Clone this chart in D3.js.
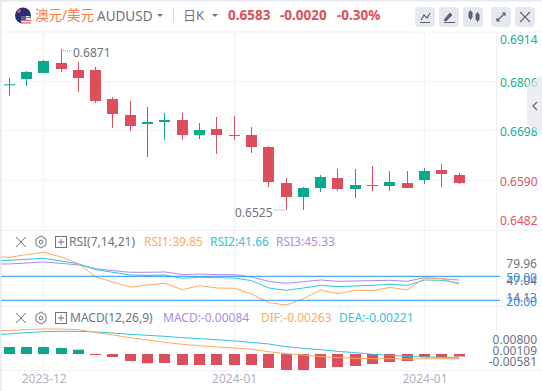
<!DOCTYPE html>
<html><head><meta charset="utf-8">
<script src="https://cdn.jsdelivr.net/npm/d3@7/dist/d3.min.js"></script>
<style>html,body{margin:0;padding:0;background:#fff;overflow:hidden}svg{display:block}text{font-family:"Noto Sans","Noto Sans CJK SC",sans-serif}</style>
</head><body><svg id="c" width="542" height="391"></svg>
<script>
const open_=[.67973,.68104,.68235,.68453,.683,.683,.67667,.67318,.67122,.67165,.67209,.66882,.67013,.66882,.66882,.6662,.65834,.65529,.65725,.65943,.65703,.6579,.65769,.65834,.659,.66118,.66009];
const high_=[.68125,.68278,.68518,.68752,.68475,.68365,.67711,.67624,.67493,.67362,.67362,.67144,.67274,.67296,.67056,.66642,.65943,.65747,.66009,.6614,.6614,.66205,.66096,.66096,.66162,.66249,.66053];
const low_=[.67733,.67951,.68235,.68256,.6782,.6758,.67034,.66969,.66402,.66773,.66773,.66794,.66467,.66773,.66489,.65747,.65245,.65245,.65638,.6566,.65507,.6566,.6566,.65725,.65812,.65747,.65812];
const close_=[.67988,.68256,.68496,.68322,.68125,.67624,.6734,.67078,.67165,.67209,.66882,.66991,.66882,.66871,.6662,.65856,.65529,.65725,.65965,.65703,.6579,.65779,.65856,.65725,.66096,.66031,.65834];
// indicator series start one session before the first visible candle
const rsi1=[74.6,73.7,77.1,79.96,74.2,65.8,49.1,42.9,36.6,39.1,41.2,33.3,38.3,35.4,35.0,27.9,17.1,14.13,22.1,32.9,28.3,32.5,32.1,36.2,32.9,47.9,47.1,39.85];
const rsi2=[69.6,70.0,71.2,72.5,69.1,65.8,58.3,55.0,51.6,51.2,51.6,47.5,48.7,48.3,47.9,44.6,35.4,32.5,35.4,38.7,37.1,37.9,38.7,40.0,38.7,45.4,45.0,41.66];
const rsi3=[65.4,65.4,66.6,67.9,66.2,64.2,59.6,57.1,55.0,55.0,55.4,52.1,52.9,52.1,52.1,49.1,43.7,41.2,43.3,45.4,43.7,44.1,44.6,45.0,43.7,48.3,47.1,45.33];
const dif=[.00767,.00789,.00811,.00833,.00833,.00811,.00722,.00633,.00544,.00467,.00389,.00322,.00278,.00233,.002,.00156,.00078,.00011,-.00033,-.00089,-.00122,-.00144,-.00156,-.00156,-.00167,-.00156,-.00156,-.00156];
const dea=[.00644,.00667,.00711,.00744,.00756,.00756,.00733,.007,.00656,.00622,.00589,.00544,.00511,.00478,.00433,.00389,.00333,.00244,.00189,.00144,.00089,.00044,-.00011,-.00044,-.00078,-.001,-.00111,-.00111];
const hist=[.00233,.00233,.00233,.002,.00144,-.00033,-.001,-.00233,-.0031,-.003,-.00367,-.00367,-.00367,-.00367,-.00367,-.00467,-.00533,-.00533,-.00467,-.00433,-.004,-.00333,-.00267,-.00233,-.001,-.001,-.00084];
const priceTicks=[0.6914,0.6806,0.6698,0.6590,0.6482];
const rsiTicks=[79.96,47.04,14.13];
const rsiLevels=[50,20];
const macdTicks=["0.00800","0.00109","-0.00581"];
const dateTicks=[[2,"2023-12"],[13,"2024-01"],[24,"2024-01"]];

const GREEN="#0AA88C",RED="#DC4E5B",GRID="#f3f4f8",ORANGE="#FFA95E",CYAN="#2FC4DC",PURPLE="#A98CE8",BLUE="#2196F3",GRAY="#6f7280";
const svg=d3.select("#c");
const x=d3.scaleLinear().domain([0,26]).range([9.1,459.16]);
const sx=i=>Math.floor(x(i))+.5;
const y=d3.scaleLinear().domain([0.6806,0.6590]).range([81,180]);
const yR=d3.scaleLinear().domain([50,20]).range([276.3,300.3]);
const yRL=d3.scaleLinear().domain([79.96,14.13]).range([264,298]);
const yM=d3.scaleLinear().domain([0,0.008]).range([354,330]);
const yML=d3.scalePoint().domain(macdTicks).range([340,362]);

svg.append("defs").append("clipPath").attr("id","plot").append("rect").attr("x",1).attr("y",32).attr("width",495).attr("height",339);
// frame
svg.append("rect").attr("width",542).attr("height",391).attr("fill","#fff");
svg.append("rect").attr("width",542).attr("height",1.5).attr("fill","#e6e9f2");
svg.append("rect").attr("width",1.5).attr("height",391).attr("fill","#e6e9f2");
const hl=(yy,c)=>svg.append("line").attr("x1",1).attr("x2",542).attr("y1",yy).attr("y2",yy).attr("stroke",c||GRID);
[32,230.5,306,370.5].forEach(v=>hl(v,"#f0f1f5"));
svg.append("g").selectAll("line").data(priceTicks.slice(1,4)).join("line")
 .attr("x1",1).attr("x2",496).attr("y1",d=>Math.floor(y(d))+.5).attr("y2",d=>Math.floor(y(d))+.5).attr("stroke",GRID);
svg.append("g").selectAll("line").data(dateTicks).join("line")
 .attr("x1",d=>sx(d[0])).attr("x2",d=>sx(d[0])).attr("y1",32).attr("y2",371).attr("stroke",GRID).attr("stroke-width",1.5);
svg.append("line").attr("x1",496.5).attr("x2",496.5).attr("y1",32).attr("y2",371).attr("stroke","#f0f1f5");

// candles
const idx=d3.range(open_.length);
const col=i=>close_[i]>=open_[i]?GREEN:RED;
const cg=svg.append("g");
cg.selectAll("line").data(idx).join("line").attr("x1",sx).attr("x2",sx)
 .attr("y1",i=>y(high_[i])).attr("y2",i=>y(low_[i])).attr("stroke",col);
cg.selectAll("rect").data(idx).join("rect").attr("x",i=>sx(i)-5.5).attr("width",11)
 .attr("y",i=>y(Math.max(open_[i],close_[i])))
 .attr("height",i=>Math.max(1,Math.abs(y(open_[i])-y(close_[i])))).attr("fill",col);

// high / low annotations
const hiI=d3.maxIndex(high_),loI=d3.minIndex(low_);
svg.append("line").attr("x1",sx(hiI)+1.5).attr("x2",sx(hiI)+10).attr("y1",y(high_[hiI])+1.5).attr("y2",y(high_[hiI])+1.5).attr("stroke","#8b8e9b").attr("stroke-dasharray","1 1");
svg.append("text").attr("x",73).attr("y",57).attr("font-size",12).attr("fill",GRAY).text("0.6871");
svg.append("line").attr("x1",sx(loI)-13).attr("x2",sx(loI)-1).attr("y1",y(low_[loI])).attr("y2",y(low_[loI])).attr("stroke","#8b8e9b").attr("stroke-dasharray","1 1");
svg.append("text").attr("x",235).attr("y",217).attr("font-size",12).attr("fill",GRAY).text("0.6525");

// price labels
svg.append("g").selectAll("text").data(priceTicks).join("text")
 .attr("x",500).attr("y",d=>Math.max(39.5,Math.min(221,y(d)+1.5))).attr("dy","0.35em").attr("font-size",12)
 .attr("fill",d=>d>=0.6698?"#16AE8E":"#E0525F").text(d=>d.toFixed(4));

// RSI
const plot=svg.append("g").attr("clip-path","url(#plot)");
const lineFrom=(s)=>d3.line().x((d,i)=>x(i-1)).y(d=>s(d));
[[rsi3,PURPLE],[rsi2,CYAN],[rsi1,ORANGE]].forEach(([a,c])=>plot.append("path").datum(a).attr("fill","none").attr("stroke",c).attr("d",lineFrom(yR)));
svg.append("g").selectAll("line").data(rsiLevels).join("line").attr("x1",1).attr("x2",500)
 .attr("y1",d=>yR(d)).attr("y2",d=>yR(d)).attr("stroke",BLUE);
svg.append("g").selectAll("text").data(rsiTicks).join("text").attr("x",537).attr("text-anchor","end")
 .attr("y",d=>yRL(d)).attr("dy","0.35em").attr("font-size",12).attr("fill",GRAY).text(d=>d.toFixed(2));
svg.append("g").selectAll("text").data(rsiLevels).join("text").attr("x",537).attr("text-anchor","end")
 .attr("y",d=>yR(d)+1).attr("dy","0.35em").attr("font-size",12).attr("fill",BLUE).text(d=>d.toFixed(2));

// MACD
plot.append("g").selectAll("rect").data(hist).join("rect")
 .attr("x",(d,i)=>sx(i)-5.5).attr("width",11)
 .attr("y",d=>Math.min(yM(d),yM(0))).attr("height",d=>Math.max(1,Math.abs(yM(d)-yM(0))))
 .attr("fill",d=>d>=0?GREEN:RED);
[[dea,CYAN],[dif,ORANGE]].forEach(([a,c])=>plot.append("path").datum(a).attr("fill","none").attr("stroke",c).attr("d",lineFrom(yM)));
svg.append("g").selectAll("text").data(macdTicks).join("text").attr("x",537).attr("text-anchor","end")
 .attr("y",d=>yML(d)).attr("dy","0.35em").attr("font-size",12).attr("fill",GRAY).text(d=>d);

// date axis
const ax=d3.axisBottom(x).tickValues(dateTicks.map(d=>d[0])).tickSize(0).tickFormat(v=>dateTicks.find(d=>d[0]===v)[1]);
const axG=svg.append("g").attr("transform","translate(0,370)").call(ax);
axG.select(".domain").remove();
axG.selectAll("text").attr("font-size",12).attr("fill","#b0b2c0").attr("font-family",'"Noto Sans"').attr("dy","0.8em");

// header
const T=(xx,yy,s,c,fs,w)=>svg.append("text").attr("x",xx).attr("y",yy).attr("font-size",fs).attr("fill",c).attr("font-weight",w||400).text(s);
// flag
svg.append("circle").attr("cx",23).attr("cy",15.5).attr("r",8).attr("fill","#26307a");
svg.append("rect").attr("x",21).attr("y",16).attr("width",10).attr("height",8).attr("rx",3).attr("fill","#f0e4e6");
[17.5,20.5,23].forEach(v=>svg.append("line").attr("x1",21).attr("x2",31).attr("y1",v).attr("y2",v).attr("stroke","#d9606d"));
svg.append("rect").attr("x",21).attr("y",16).attr("width",5).attr("height",4).attr("fill","#5a6090");
svg.append("circle").attr("cx",19).attr("cy",11).attr("r",2).attr("fill","#d9505d");
T(35,20,"澳元/美元","#FF7A45",13.5);
T(97,21,"AUDUSD","#6f7280",13.5);
svg.append("path").attr("d","M157 14h6l-3 3z").attr("fill","#6f7280");
svg.append("rect").attr("x",173).attr("y",9).attr("width",1).attr("height",13).attr("fill","#d5d7e0");
T(183,20,"日K","#6f7280",13);
svg.append("path").attr("d","M212 14h6l-3 3z").attr("fill","#6f7280");
T(228,19.5,"0.6583",RED,13.5,700);
T(280,19.5,"-0.0020",RED,13.5,700);
T(337,19.5,"-0.30%",RED,13.5,700);
// toolbar buttons
const btnX=[415,439,463,491,515];
svg.append("g").selectAll("rect").data(btnX).join("rect").attr("x",d=>d).attr("y",7).attr("width",20).attr("height",20).attr("rx",4).attr("fill","#e6e8f0");
const ic="#5f6270";
svg.append("path").attr("d","M421 20l3-5 3 3 3-5 M420 22.5h10").attr("fill","none").attr("stroke",ic).attr("stroke-width",1.2);
svg.append("path").attr("d","M444 20l6-7 2 2-6 6z M444 22.5h11").attr("fill",ic).attr("stroke",ic);
svg.append("path").attr("d","M469 12h3v6h-3z M476 14h3v6h-3z M470.5 10v10 M477.5 12v10").attr("fill",ic).attr("stroke",ic);
svg.append("path").attr("d","M497 21l8-8 M502 13h3v3 M497 18v3h3").attr("fill","none").attr("stroke",ic).attr("stroke-width",1.2);
svg.append("path").attr("d","M520 12l10 10 M530 12l-10 10").attr("stroke",ic).attr("stroke-width",1.1);
// side handle
svg.append("path").attr("d","M542 75 L527 85 V125 L542 135z").attr("fill","#e6e6ec").attr("fill-opacity",.7);
svg.append("path").attr("d","M537 102l-4 4 4 4").attr("fill","none").attr("stroke",ic).attr("stroke-width",1.2);

// pane legends
function tools(cy){
 svg.append("path").attr("d",`M16 ${cy-5}l10 10 M26 ${cy-5}l-10 10`).attr("stroke",GRAY).attr("fill","none");
 svg.append("path").attr("d",`M41 ${cy-6}l5 3v6l-5 3-5-3v-6z`).attr("stroke",GRAY).attr("fill","none");
 svg.append("circle").attr("cx",41).attr("cy",cy).attr("r",1.8).attr("stroke",GRAY).attr("fill","none");
 svg.append("rect").attr("x",55.5).attr("y",cy-5.5).attr("width",11).attr("height",11).attr("stroke",GRAY).attr("fill","none");
 svg.append("path").attr("d",`M58 ${cy}h6 M61 ${cy-3}v6`).attr("stroke",GRAY);
}
tools(242);tools(318);
T(69,246,"RSI(7,14,21)",GRAY,12);
T(144,246,"RSI1:39.85",ORANGE,12);
T(210,246,"RSI2:41.66",CYAN,12);
T(276,246,"RSI3:45.33",PURPLE,12);
T(70,322,"MACD(12,26,9)",GRAY,12);
T(163,322,"MACD:-0.00084",PURPLE,12);
T(261,322,"DIF:-0.00263",ORANGE,12);
T(339,322,"DEA:-0.00221",CYAN,12);
</script></body></html>
